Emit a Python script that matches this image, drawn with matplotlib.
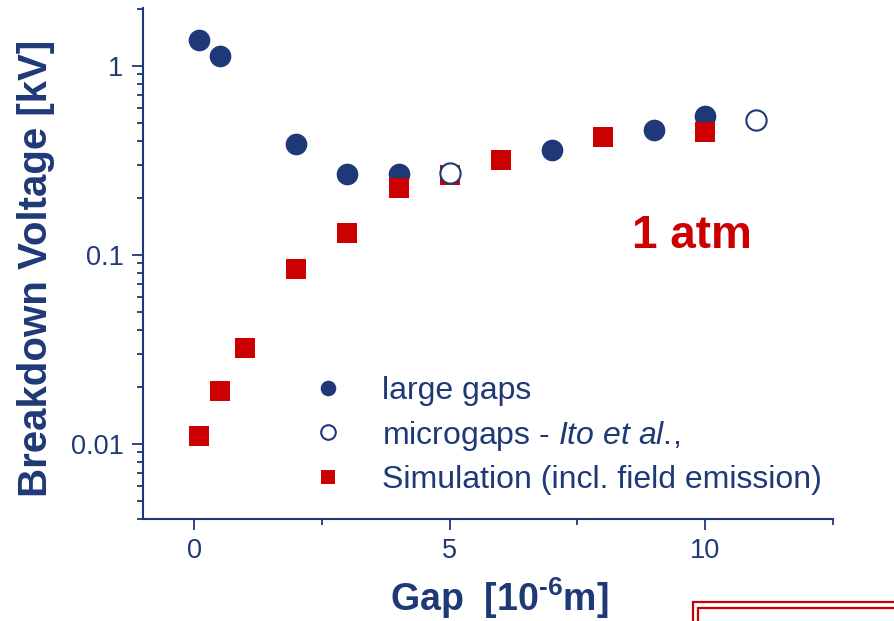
#!/usr/bin/env python3
"""
Breakdown voltage vs gap at 1 atm
"""

import matplotlib
matplotlib.use('Agg')
import matplotlib.pyplot as plt
from matplotlib.patches import Rectangle
from matplotlib.ticker import MultipleLocator, LogLocator, NullFormatter, FixedLocator

NAVY = '#1f3877'
RED = '#cc0000'

# data
large_gap_x = [0.1, 0.5, 2, 3, 4, 7, 9, 10]
large_gap_v = [1.36, 1.13, 0.386, 0.268, 0.266, 0.36, 0.458, 0.539]

micro_gap_x = [5, 11]
micro_gap_v = [0.272, 0.514]

sim_x = [0.1, 0.5, 1, 2, 3, 4, 5, 6, 8, 10]
sim_v = [0.011, 0.019, 0.0322, 0.0843, 0.131, 0.226, 0.265, 0.318, 0.42, 0.448]

y_ticks = [0.01, 0.1, 1]
y_tick_labels = ['0.01', '0.1', '1']
x_ticks = [0, 5, 10]

plt.rcParams['font.family'] = ['Liberation Sans', 'DejaVu Sans']
plt.rcParams['mathtext.fontset'] = 'custom'
plt.rcParams['mathtext.rm'] = 'Liberation Sans'
plt.rcParams['mathtext.it'] = 'Liberation Sans:italic'
plt.rcParams['mathtext.bf'] = 'Liberation Sans:bold'


def plot_breakdown():
    fig = plt.figure(figsize=(8.95, 6.21), dpi=100)
    ax = fig.add_axes([0.1598, 0.1643, 0.7709, 0.8228])

    h1, = ax.plot(large_gap_x, large_gap_v, 'o', color=NAVY, markersize=15.6,
                  markeredgewidth=0, label='large gaps', zorder=3)
    h3, = ax.plot(sim_x, sim_v, 's', color=RED, markersize=13.7,
                  markeredgewidth=0, label='Simulation (incl. field emission)', zorder=4)
    h2, = ax.plot(micro_gap_x, micro_gap_v, 'o', markerfacecolor='white',
                  markeredgecolor=NAVY, markeredgewidth=1.5, markersize=14.6,
                  label=r'microgaps - $\it{Ito\ et\ al.}\!$,', zorder=5)

    ax.set_yscale('log')
    ax.set_xlim(-1, 12.5)
    ax.set_ylim(0.004, 2.02)

    ax.xaxis.set_major_locator(FixedLocator(x_ticks))
    ax.xaxis.set_minor_locator(MultipleLocator(2.5))
    ax.yaxis.set_major_locator(FixedLocator(y_ticks))
    ax.set_yticklabels(y_tick_labels)
    ax.yaxis.set_minor_locator(LogLocator(base=10, subs=range(2, 10)))
    ax.yaxis.set_minor_formatter(NullFormatter())

    for side in ['top', 'right']:
        ax.spines[side].set_visible(False)
    for side in ['left', 'bottom']:
        ax.spines[side].set_color(NAVY)
        ax.spines[side].set_linewidth(1.5)

    ax.tick_params(which='major', length=8, width=1.3, color=NAVY,
                   labelcolor=NAVY, labelsize=19.5, pad=6)
    ax.tick_params(which='minor', length=4.5, width=1.3, color=NAVY)

    ax.set_xlabel('Gap  [10$^{\\mathbf{\u20106}}$m]', fontsize=27, fontweight='bold', color=NAVY)
    ax.xaxis.set_label_coords(0.516, -0.11)
    ax.set_ylabel('Breakdown Voltage [kV]', fontsize=29, fontweight='bold', color=NAVY)
    ax.yaxis.set_label_coords(-0.127, 0.49)

    ax.text(0.796, 0.553, '1 atm', transform=ax.transAxes, fontsize=33,
            fontweight='bold', color=RED, ha='center', va='center')

    leg = ax.legend(handles=[h1, h2, h3], loc='upper left', bbox_to_anchor=(0.245, 0.28),
                    frameon=False, fontsize=23, markerscale=0.72, handlelength=1.0,
                    handletextpad=1.2, labelspacing=0.4, borderpad=0, borderaxespad=0)
    for t in leg.get_texts():
        t.set_color(NAVY)

    # slide frame corner in the bottom right
    fig.patches.append(Rectangle((693 / 895, -0.05), 0.5, 0.05 + (621 - 602) / 621,
                                 transform=fig.transFigure, fill=False,
                                 edgecolor=RED, linewidth=1.6))
    fig.patches.append(Rectangle((698 / 895, -0.05), 0.5, 0.05 + (621 - 608) / 621,
                                 transform=fig.transFigure, fill=False,
                                 edgecolor=RED, linewidth=1.6))

    fig.savefig('out.png', dpi=100)


if __name__ == "__main__":
    plot_breakdown()
